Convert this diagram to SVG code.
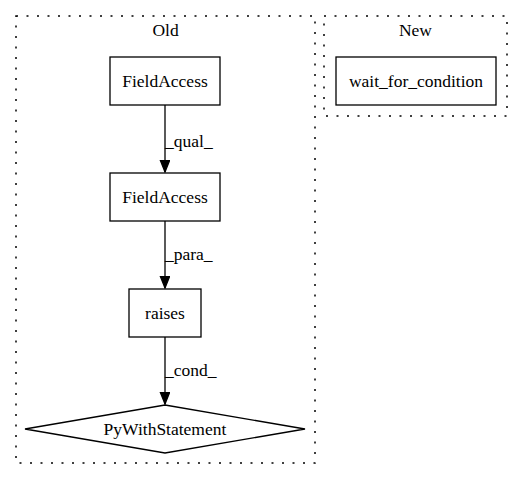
<svg xmlns="http://www.w3.org/2000/svg" width="523" height="480" viewBox="0 0 523 480">
<style>
text{font-family:"Liberation Serif","Times New Roman",serif;font-size:17.5px;fill:#000}
.c{text-anchor:middle}
.cl{fill:none;stroke:#000;stroke-width:1.5;stroke-dasharray:2,8.5}
.n{fill:#fff;stroke:#000;stroke-width:1.3}
.e{fill:none;stroke:#000;stroke-width:1.3}
</style>
<defs>
<marker id="a" markerWidth="14" markerHeight="12" refX="12.5" refY="5" orient="auto" markerUnits="userSpaceOnUse">
<path d="M0,0 L12.5,5 L0,10 Z" fill="#000" stroke="#000" stroke-width="1.3"/>
</marker>
</defs>
<rect width="523" height="480" fill="#fff"/>
<g id="cluster_old">
<rect class="cl" x="16" y="16" width="299" height="447"/>
<text class="c" x="165.5" y="36">Old</text>
</g>
<g id="cluster_new">
<rect class="cl" x="324" y="16" width="183" height="100"/>
<text class="c" x="415.5" y="36">New</text>
</g>
<g id="edges">
<path class="e" d="M165,105 V172" marker-end="url(#a)"/>
<text x="165" y="147">_qual_</text>
<path class="e" d="M165,221 V288" marker-end="url(#a)"/>
<text x="165" y="260">_para_</text>
<path class="e" d="M165,337 V404" marker-end="url(#a)"/>
<text x="165" y="376">_cond_</text>
</g>
<g id="n1">
<rect class="n" x="110" y="57" width="110" height="48"/>
<text class="c" x="165" y="87">FieldAccess</text>
</g>
<g id="n2">
<rect class="n" x="110" y="173" width="110" height="48"/>
<text class="c" x="165" y="203">FieldAccess</text>
</g>
<g id="n3">
<rect class="n" x="129" y="289" width="72" height="48"/>
<text class="c" x="165" y="319">raises</text>
</g>
<g id="n4">
<polygon class="n" points="165,405 305,429 165,453 25,429"/>
<text class="c" x="165" y="435">PyWithStatement</text>
</g>
<g id="n5">
<rect class="n" x="336" y="57" width="160" height="48"/>
<text class="c" x="416" y="87">wait_for_condition</text>
</g>
</svg>
